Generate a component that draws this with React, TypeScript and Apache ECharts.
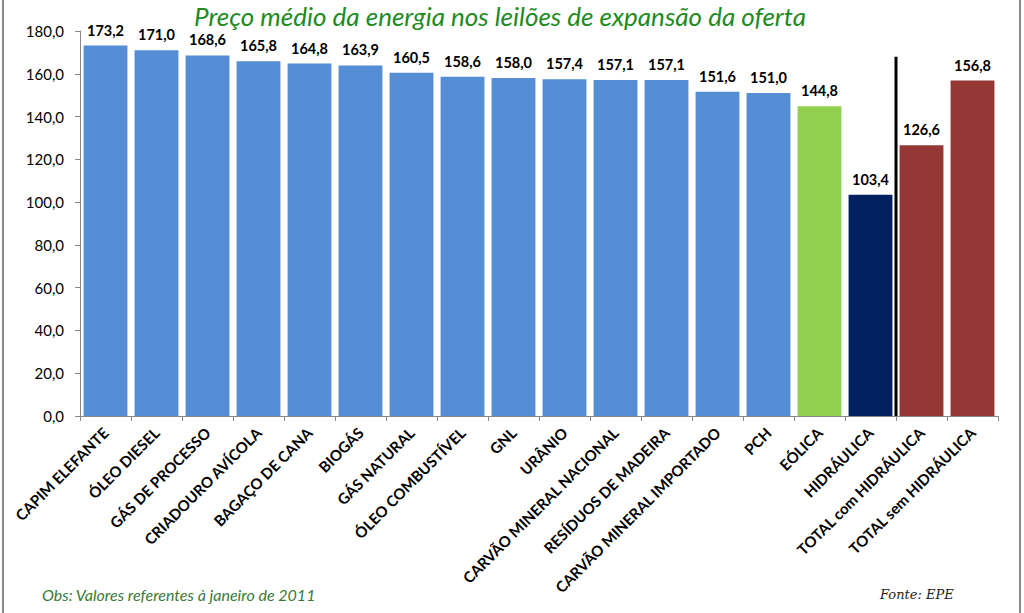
import React, { useEffect, useRef } from "react";
import * as echarts from "echarts";

const categories = [
  "CAPIM ELEFANTE",
  "ÓLEO DIESEL",
  "GÁS DE PROCESSO",
  "CRIADOURO AVÍCOLA",
  "BAGAÇO DE CANA",
  "BIOGÁS",
  "GÁS NATURAL",
  "ÓLEO COMBUSTÍVEL",
  "GNL",
  "URÂNIO",
  "CARVÃO MINERAL NACIONAL",
  "RESÍDUOS DE MADEIRA",
  "CARVÃO MINERAL IMPORTADO",
  "PCH",
  "EÓLICA",
  "HIDRÁULICA",
  "TOTAL com HIDRÁULICA",
  "TOTAL sem HIDRÁULICA",
];
const values = [173.2, 171.0, 168.6, 165.8, 164.8, 163.9, 160.5, 158.6, 158.0, 157.4, 157.1, 157.1, 151.6, 151.0, 144.8, 103.4, 126.6, 156.8];
const barColors = [
  "#558ED5", "#558ED5", "#558ED5", "#558ED5", "#558ED5", "#558ED5", "#558ED5", "#558ED5", "#558ED5",
  "#558ED5", "#558ED5", "#558ED5", "#558ED5", "#558ED5", "#92D050", "#002060", "#953735", "#953735",
];
const yTicks = { min: 0, max: 180, interval: 20 };
const separatorTop = 168;

const fmt = (v: number) => v.toFixed(1).replace(".", ",");

export default function App() {
  const ref = useRef<HTMLDivElement>(null);
  useEffect(() => {
    if (!ref.current) return;
    const chart = echarts.init(ref.current, undefined, { renderer: "svg" });
    const baseGraphic: any[] = [
      { type: "rect", shape: { x: 2, y: 0, width: 2, height: 613 }, style: { fill: "#8c8c8c" } },
      { type: "rect", shape: { x: 1019, y: 0, width: 2, height: 613 }, style: { fill: "#8c8c8c" } },
      {
        type: "text",
        left: 42,
        top: 586,
        style: {
          text: "Obs: Valores referentes à janeiro de 2011",
          fontFamily: "Lato",
          fontStyle: "italic",
          fontSize: 16,
          fill: "#3A7A3A",
        },
      },
      {
        type: "text",
        left: 880,
        top: 588,
        style: {
          text: "Fonte: EPE",
          fontFamily: "DejaVu Serif",
          fontStyle: "italic",
          fontSize: 13,
          fill: "#222222",
        },
      },
    ];
    chart.setOption({
      animation: false,
      backgroundColor: "#ffffff",
      title: {
        text: "Preço médio da energia nos leilões de expansão da oferta",
        left: 495,
        textAlign: "center",
        top: -2,
        textStyle: {
          fontFamily: "Lato",
          fontStyle: "italic",
          fontWeight: "normal",
          fontSize: 26,
          color: "#1E8B1E",
        },
      },
      grid: { left: 80, right: 26, top: 31, bottom: 197, containLabel: false },
      xAxis: {
        type: "category",
        data: categories,
        axisLine: { lineStyle: { color: "#888888", width: 1 } },
        axisTick: { show: true, length: 5, lineStyle: { color: "#888888" } },
        axisLabel: {
          interval: 0,
          rotate: 45,
          fontFamily: "Lato",
          fontWeight: "bold",
          fontSize: 15,
          color: "#000000",
          margin: 14,
        },
      },
      yAxis: {
        type: "value",
        min: yTicks.min,
        max: yTicks.max,
        interval: yTicks.interval,
        splitLine: { show: false },
        axisLine: { show: true, lineStyle: { color: "#888888" } },
        axisTick: { show: true, length: 5, lineStyle: { color: "#888888" } },
        axisLabel: {
          formatter: (v: number) => fmt(v),
          fontFamily: "Lato",
          fontSize: 15,
          color: "#000000",
          margin: 16,
        },
      },
      series: [
        {
          type: "bar",
          data: values.map((v, i) => ({ value: v, itemStyle: { color: barColors[i] } })),
          barCategoryGap: "14%",
          label: {
            show: true,
            position: "top",
            distance: 8,
            formatter: (p: any) => fmt(p.value),
            fontFamily: "Lato",
            fontWeight: "bold",
            fontSize: 14.5,
            color: "#000000",
          },
        },
      ],
      graphic: baseGraphic,
    });
    const x1 = chart.convertToPixel({ xAxisIndex: 0 }, 15) as number;
    const x2 = chart.convertToPixel({ xAxisIndex: 0 }, 16) as number;
    const yTop = chart.convertToPixel({ yAxisIndex: 0 }, separatorTop) as number;
    const yBot = chart.convertToPixel({ yAxisIndex: 0 }, 0) as number;
    const xs = (x1 + x2) / 2;
    chart.setOption(
      {
        graphic: [
          ...baseGraphic,
          {
            type: "line",
            shape: { x1: xs, y1: yTop, x2: xs, y2: yBot },
            style: { stroke: "#000000", lineWidth: 3 },
            z: 10,
          },
        ],
      },
      { replaceMerge: ["graphic"] }
    );
    return () => chart.dispose();
  }, []);
  return <div ref={ref} style={{ width: 1024, height: 613, position: "absolute", left: 0, top: 0 }} />;
}
